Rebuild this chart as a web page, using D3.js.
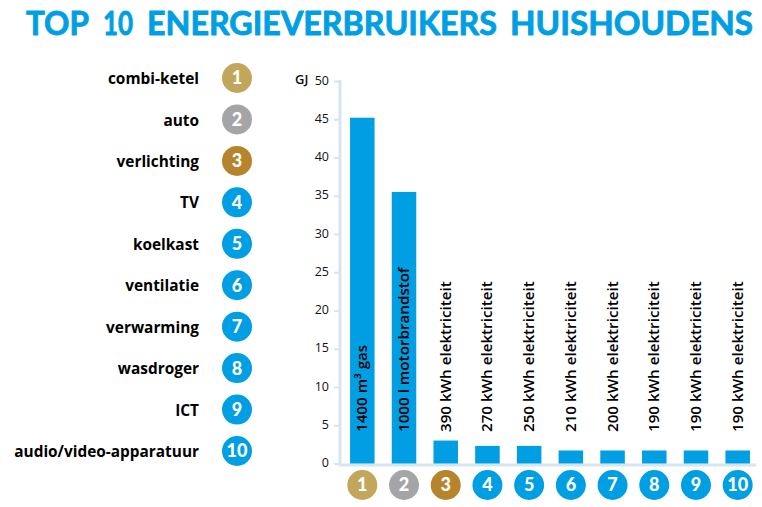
<!DOCTYPE html>
<html>
<head>
<meta charset="utf-8">
<script src="https://cdn.jsdelivr.net/npm/d3@7"></script>
<style>
  html, body { margin: 0; padding: 0; background: #fff; }
  text { font-family: "Open Sans", sans-serif; }
</style>
</head>
<body>
<div id="chart"></div>
<script>
const ranks = [1, 2, 3, 4, 5, 6, 7, 8, 9, 10];
const names = ["combi-ketel", "auto", "verlichting", "TV", "koelkast", "ventilatie", "verwarming", "wasdroger", "ICT", "audio/video-apparatuur"];
const values = [45.2, 35.5, 3, 2.3, 2.3, 1.7, 1.7, 1.7, 1.7, 1.7];
const barLabels = ["1400 m³ gas", "1000 l motorbrandstof", "390 kWh elektriciteit", "270 kWh elektriciteit", "250 kWh elektriciteit", "210 kWh elektriciteit", "200 kWh elektriciteit", "190 kWh elektriciteit", "190 kWh elektriciteit", "190 kWh elektriciteit"];
const yTicks = [0, 5, 10, 15, 20, 25, 30, 35, 40, 45, 50];
const titleWords = ["TOP", "10", "ENERGIEVERBRUIKERS", "HUISHOUDENS"];
const titleStarts = [26, 103, 147, 510];
const titleEnds = [89, 133, 497, 753];

const blue = "#009fe3";
const axisColor = "#d5e6f0";
// first three ranks get gold, silver and bronze
const rankColor = (r) => (r === 1 ? "#c2a65b" : r === 2 ? "#a5a5a7" : r === 3 ? "#b5842c" : blue);

const svg = d3.select("#chart").append("svg").attr("width", 762).attr("height", 507).style("display", "block");

// Title, one word at a time so the wide word gaps stay
svg.selectAll(".title")
  .data(titleWords)
  .enter()
  .append("text")
  .attr("class", "title")
  .attr("x", (d, i) => titleStarts[i])
  .attr("y", 35)
  .attr("textLength", (d, i) => titleEnds[i] - titleStarts[i])
  .attr("lengthAdjust", "spacingAndGlyphs")
  .style("font-family", "Lato, sans-serif")
  .style("font-size", "33px")
  .style("font-weight", 700)
  .style("fill", blue)
  .style("stroke", blue)
  .style("stroke-width", 0.9)
  .style("stroke-linejoin", "round")
  .text((d) => d);

// Scales
const x = d3.scaleBand().domain(ranks).range([341.7, 758.3]).paddingInner(0.412).paddingOuter(0.2);
const y = d3.scaleLinear().domain([0, 50]).range([463.5, 81]);
const rows = d3.scalePoint().domain(ranks).range([78, 451]);

// Y axis
const axis = svg.append("g")
  .attr("transform", "translate(340,0)")
  .call(d3.axisLeft(y).tickValues(yTicks).tickSize(6).tickPadding(5));
axis.select(".domain").remove();
axis.selectAll(".tick line").attr("stroke", axisColor).attr("stroke-width", 2);
axis.selectAll(".tick text")
  .attr("dy", "0.25em")
  .style("font-family", '"Open Sans", sans-serif')
  .style("font-size", "12.5px")
  .style("fill", "#111");
svg.append("line").attr("x1", 340).attr("x2", 340).attr("y1", y(50) - 1).attr("y2", y(0) + 2.5).attr("stroke", axisColor).attr("stroke-width", 3);
svg.append("line").attr("x1", 339).attr("x2", 756).attr("y1", y(0) + 1.5).attr("y2", y(0) + 1.5).attr("stroke", axisColor).attr("stroke-width", 3);

svg.append("text")
  .attr("x", 295)
  .attr("y", 84)
  .style("font-size", "13px")
  .style("font-weight", 600)
  .style("fill", "#111")
  .text("GJ");

// Bars
svg.selectAll(".bar")
  .data(ranks)
  .enter()
  .append("rect")
  .attr("class", "bar")
  .attr("x", (d) => x(d))
  .attr("y", (d, i) => y(values[i]))
  .attr("width", x.bandwidth())
  .attr("height", (d, i) => y(0) - y(values[i]))
  .style("fill", blue);

// Bar labels, rotated
svg.selectAll(".bar-label")
  .data(ranks)
  .enter()
  .append("text")
  .attr("class", "bar-label")
  .attr("transform", (d) => `translate(${x(d) + x.bandwidth() / 2 + 5},432) rotate(-90)`)
  .style("font-size", "15.2px")
  .style("font-weight", 600)
  .style("fill", "#000")
  .text((d, i) => barLabels[i]);

// Rank badges, used under the bars and in the list
const drawBadge = (g, cx, cy) => {
  g.append("circle").attr("cx", cx).attr("cy", cy).attr("r", 15).style("fill", (d) => rankColor(d));
  g.append("text")
    .attr("x", cx)
    .attr("y", cy)
    .attr("dy", "0.36em")
    .attr("text-anchor", "middle")
    .style("font-family", "Lato, sans-serif")
    .style("font-size", "18px")
    .style("font-weight", 900)
    .style("fill", "#fff")
    .text((d) => d);
};

const bottom = svg.selectAll(".bottom-badge").data(ranks).enter().append("g").attr("class", "bottom-badge");
drawBadge(bottom, (d) => x(d) + x.bandwidth() / 2, 485);

// Ranking list on the left
const list = svg.selectAll(".list-badge").data(ranks).enter().append("g").attr("class", "list-badge");
drawBadge(list, 237, (d) => rows(d));

svg.selectAll(".name")
  .data(ranks)
  .enter()
  .append("text")
  .attr("class", "name")
  .attr("x", 199)
  .attr("y", (d) => rows(d) + 0.7)
  .attr("dy", "0.35em")
  .attr("text-anchor", "end")
  .style("font-size", "15.4px")
  .style("font-weight", 700)
  .style("fill", "#000")
  .text((d, i) => names[i]);
</script>
</body>
</html>
